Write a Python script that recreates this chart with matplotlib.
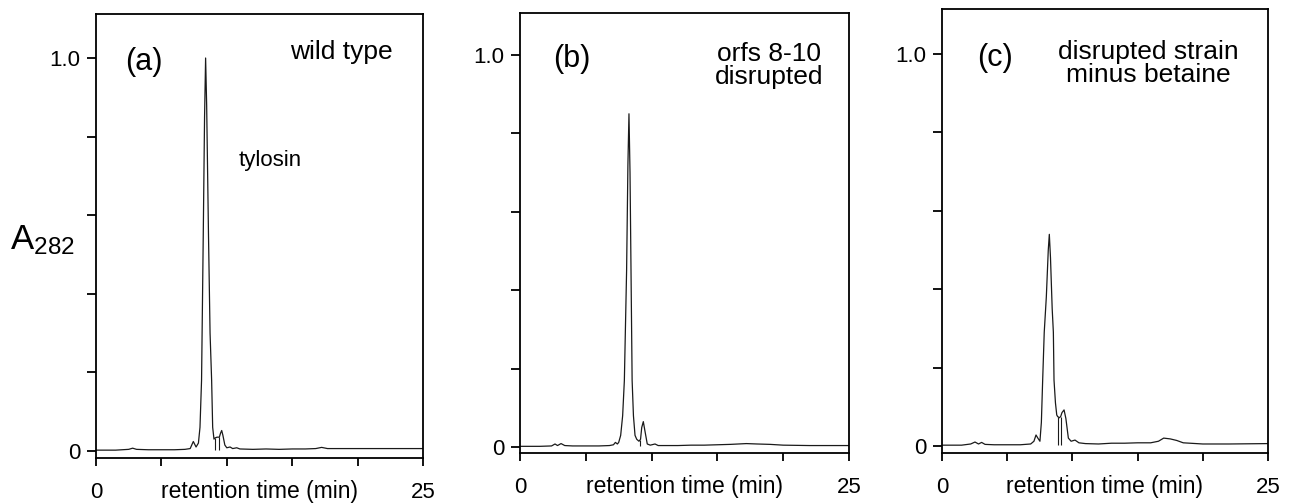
import numpy as np
import matplotlib
matplotlib.use("Agg")
import matplotlib.pyplot as plt

plt.rcParams['font.family'] = ['Liberation Sans', 'DejaVu Sans']
plt.rcParams['mathtext.default'] = 'regular'

# chromatogram traces (time in min, relative A282)
t_a = [0, 1.5, 2.5, 2.8, 3.1, 4, 5, 6, 6.8, 7.2, 7.44, 7.65, 7.83, 7.95, 8.07, 8.2,
       8.3, 8.38, 8.46, 8.6, 8.72, 8.84, 8.92, 9.02, 9.1, 9.25, 9.43, 9.52, 9.61, 9.7,
       9.85, 10.0, 10.25, 10.45, 10.76, 11.0, 12, 13, 14, 15, 16, 16.8, 17.25, 17.7,
       19, 21, 23, 25]
a_a = [0.002, 0.002, 0.004, 0.007, 0.004, 0.003, 0.003, 0.003, 0.004, 0.006, 0.024, 0.01,
       0.02, 0.06, 0.18, 0.55, 0.85, 1.0, 0.88, 0.55, 0.3, 0.18, 0.06, 0.03, 0.033, 0.035,
       0.035, 0.045, 0.052, 0.04, 0.015, 0.008, 0.01, 0.006, 0.008, 0.005, 0.004, 0.005,
       0.004, 0.005, 0.005, 0.006, 0.009, 0.006, 0.006, 0.006, 0.006, 0.006]
drops_a = [9.1, 9.43]

t_b = [0, 1.5, 2.4, 2.66, 2.85, 3.12, 3.4, 4, 5, 6, 6.8, 7.1, 7.25, 7.4, 7.5, 7.65, 7.8,
       7.93, 8.1, 8.2, 8.28, 8.36, 8.52, 8.62, 8.74, 8.87, 9.04, 9.16, 9.25, 9.37, 9.5,
       9.67, 9.9, 10.26, 10.5, 11, 12, 13, 14, 15, 16, 17.2, 18, 19, 20, 22, 25]
a_b = [0.002, 0.002, 0.003, 0.008, 0.004, 0.009, 0.004, 0.003, 0.003, 0.003, 0.004, 0.006,
       0.012, 0.008, 0.012, 0.03, 0.08, 0.17, 0.45, 0.72, 0.85, 0.7, 0.17, 0.08, 0.03,
       0.02, 0.015, 0.02, 0.05, 0.065, 0.04, 0.008, 0.005, 0.008, 0.004, 0.004, 0.004,
       0.005, 0.005, 0.006, 0.007, 0.009, 0.008, 0.007, 0.005, 0.004, 0.004]
drops_b = [9.12]

t_c = [0, 1.5, 2.2, 2.53, 2.8, 3.04, 3.3, 4, 5, 6, 6.8, 7.05, 7.21, 7.35, 7.51, 7.62,
       7.72, 7.84, 8.0, 8.15, 8.23, 8.32, 8.45, 8.54, 8.59, 8.7, 8.8, 8.87, 9.0, 9.1,
       9.2, 9.36, 9.5, 9.69, 9.9, 10.2, 10.5, 11, 12, 13, 14, 15, 16, 16.6, 17.0, 17.5,
       18.0, 18.5, 20, 22, 25]
a_c = [0.002, 0.002, 0.005, 0.01, 0.005, 0.009, 0.004, 0.003, 0.003, 0.003, 0.005, 0.012,
       0.028, 0.02, 0.012, 0.06, 0.168, 0.29, 0.38, 0.5, 0.54, 0.48, 0.35, 0.29, 0.168,
       0.11, 0.079, 0.075, 0.072, 0.075, 0.085, 0.092, 0.07, 0.02, 0.012, 0.015, 0.008,
       0.006, 0.005, 0.007, 0.007, 0.008, 0.008, 0.012, 0.02, 0.018, 0.014, 0.008, 0.005,
       0.005, 0.006]
drops_c = [8.87, 9.1]

panel_tags = ['(a)', '(b)', '(c)']
panel_notes = ['wild type', 'orfs 8-10\ndisrupted', 'disrupted strain\nminus betaine']
xtick_labels = ['0', '', '', '', '', '25']
ytick_labels = ['0', '', '', '', '', '1.0']

W, H = 1293, 503
fig = plt.figure(figsize=(W / 100, H / 100), dpi=100)

# pixel boxes: left, right, top, bottom  and y-limits of each panel
boxes = [(96, 423, 14, 458), (520, 849, 13, 453), (942, 1268, 9, 453)]
ylims = [(-0.018, 1.112), (-0.015, 1.107), (-0.018, 1.115)]
traces = [(t_a, a_a, drops_a), (t_b, a_b, drops_b), (t_c, a_c, drops_c)]
tag_x = [2.2, 2.5, 2.66]
note_pos = [(22.7, 1.015, 'right'), (18.95, 0.972, 'center'), (15.85, 0.977, 'center')]

for i in range(3):
    l, r, t, b = boxes[i]
    ax = fig.add_axes([l / W, (H - b) / H, (r - l) / W, (b - t) / H])
    tt, aa, drops = traces[i]
    ax.plot(tt, aa, color='#1a1a1a', lw=0.9)
    for d in drops:
        ax.vlines(d, 0.002, np.interp(d, tt, aa), color='#1a1a1a', lw=0.8)
    ax.set_xlim(0, 25)
    ax.set_ylim(*ylims[i])
    ax.set_xticks(np.arange(0, 26, 5))
    ax.set_xticklabels(xtick_labels)
    ax.set_yticks(np.arange(0, 1.01, 0.2))
    ax.set_yticklabels(ytick_labels)
    ax.tick_params(axis='x', direction='out', length=6, width=1.3, pad=11, labelsize=16)
    ax.tick_params(axis='y', direction='out', length=6.5, width=1.3, pad=5, labelsize=16)
    for s in ax.spines.values():
        s.set_linewidth(1.3)
    ax.set_xlabel('retention time (min)', fontsize=16.5)
    ax.xaxis.set_label_coords(0.5, -0.05)
    ax.text(tag_x[i], 0.99, panel_tags[i], fontsize=22, ha='left', va='center')
    nx, ny, ha = note_pos[i]
    ax.text(nx, ny, panel_notes[i], fontsize=19, ha=ha, va='center',
            multialignment='center', linespacing=0.95)

fig.axes[0].text(10.93, 0.74, 'tylosin', fontsize=16, ha='left', va='center')
fig.text(10 / W, 1 - 240 / H, 'A$_{282}$', fontsize=25, ha='left', va='center')

fig.savefig('out.png', dpi=100)
